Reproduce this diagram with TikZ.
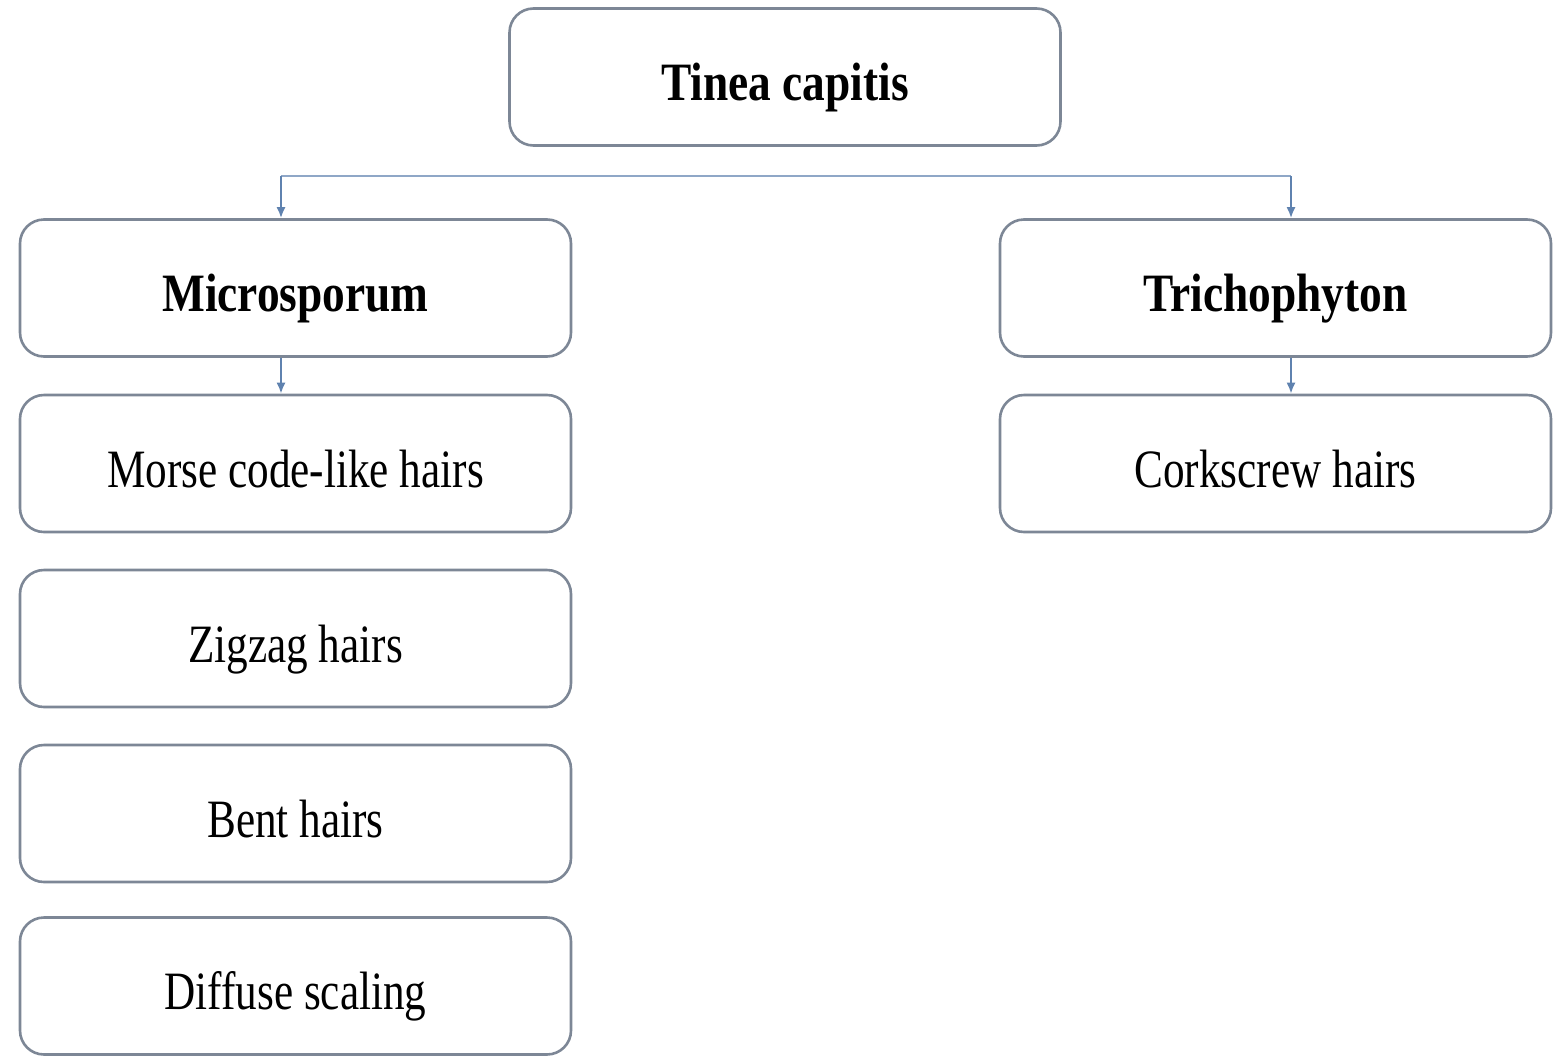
\documentclass[tikz,border=0pt]{standalone}
\usepackage{fontspec}
\setmainfont{Liberation Serif}[FakeStretch=0.8,BoldFeatures={FakeStretch=0.84}]
\usetikzlibrary{arrows.meta}
\definecolor{boxline}{RGB}{125,135,150}
\definecolor{conn}{RGB}{95,130,175}
\begin{document}
\begin{tikzpicture}[x=1pt,y=-1pt,
  card/.style={draw=boxline,line width=2.6pt,rounded corners=24pt,fill=white,
    minimum width=551pt,minimum height=137pt,inner sep=0pt,
    text height=59pt,text depth=12pt,
    font=\fontsize{54}{60}\selectfont},
  bcard/.style={card,font=\fontsize{54}{60}\selectfont\bfseries},
  link/.style={draw=conn,line width=2pt,-{Latex[length=11pt,width=9pt]}},
  bar/.style={draw=conn!70,line width=2pt}]
\useasboundingbox (0,0) rectangle (1565,1055);
\node[bcard] (top) at (785,77) {Tinea capitis};
\node[bcard] (micro) at (295.5,288) {Microsporum};
\node[bcard] (tricho) at (1275.5,288) {Trichophyton};
\node[card] (morse) at (295.5,463.5) {Morse code-like hairs};
\node[card] (zig) at (295.5,638.5) {Zigzag hairs};
\node[card] (bent) at (295.5,813.5) {Bent hairs};
\node[card] (diff) at (295.5,986) {Diffuse scaling};
\node[card] (cork) at (1275.5,463.5) {Corkscrew hairs};
\coordinate (bl) at (281,176);
\coordinate (br) at (1291,176);
\draw[bar] (bl) -- (br);
\draw[link] (bl) -- (bl |- micro.north);
\draw[link] (br) -- (br |- tricho.north);
\draw[link] (micro.south -| bl) -- (morse.north -| bl);
\draw[link] (tricho.south -| br) -- (cork.north -| br);
\end{tikzpicture}
\end{document}
